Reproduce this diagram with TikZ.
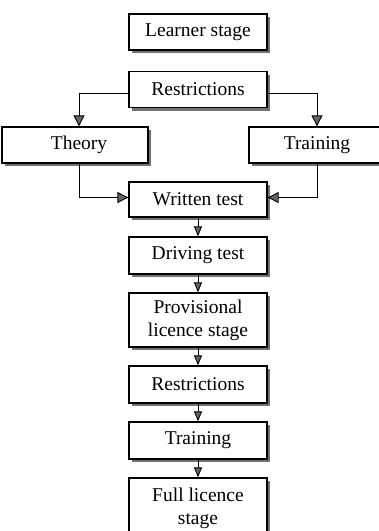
\documentclass[tikz,border=0pt]{standalone}
\usepackage{fontspec}
\setmainfont{Liberation Serif}
\usetikzlibrary{arrows.meta,shadows,positioning}
\begin{document}
\begin{tikzpicture}[x=1pt,y=-1pt,
  box/.style={draw=black, line width=1.3pt, fill=white, minimum width=138pt, minimum height=36pt,
    inner sep=0pt, align=center, font=\fontsize{19.5}{23}\selectfont,
    drop shadow={shadow xshift=3pt, shadow yshift=-3pt, fill=black!55, opacity=1}},
  conn/.style={draw=black, line width=0.9pt},
  bigarr/.style={conn, -{Triangle[length=11pt,width=11pt,fill=black!60]}},
  smallarr/.style={conn, -{Triangle[length=10pt,width=8pt,fill=black!60]}}
]
\useasboundingbox (0,0) rectangle (379,531);
\clip (0,0) rectangle (379,531);
\node[box] (ls) at (198,32) {Learner stage};
\node[box] (r1) at (198,89.5) {Restrictions};
\node[box, minimum width=146pt] (th) at (75,145) {\hspace*{8pt}Theory};
\node[box, minimum width=136pt] (tr1) at (317,145) {Training};
\node[box, minimum height=35pt] (wt) at (198,199.5) {Written test};
\node[box, minimum height=37pt] (dt) at (198,255.5) {Driving test};
\node[box, minimum height=54pt] (pl) at (198,320) {Provisional\\licence stage};
\node[box, minimum height=37pt] (r2) at (198,384.5) {Restrictions};
\node[box, minimum height=37pt] (tr2) at (198,440.5) {Training};
\node[box, minimum height=60pt] (fl) at (198,508) {Full licence\\stage};

\draw[bigarr] ([yshift=-4pt]r1.west) -| ([xshift=4pt]th.north);
\draw[bigarr] ([yshift=-4pt]r1.east) -| (tr1.north);
\draw[bigarr] ([xshift=4pt]th.south) |- ([yshift=2pt]wt.west);
\draw[bigarr] (tr1.south) |- ([yshift=2pt]wt.east);
\draw[smallarr] (wt.south) -- (dt.north);
\draw[smallarr] (dt.south) -- (pl.north);
\draw[smallarr] (pl.south) -- (r2.north);
\draw[smallarr] (r2.south) -- (tr2.north);
\draw[smallarr] (tr2.south) -- (fl.north);
\end{tikzpicture}
\end{document}
